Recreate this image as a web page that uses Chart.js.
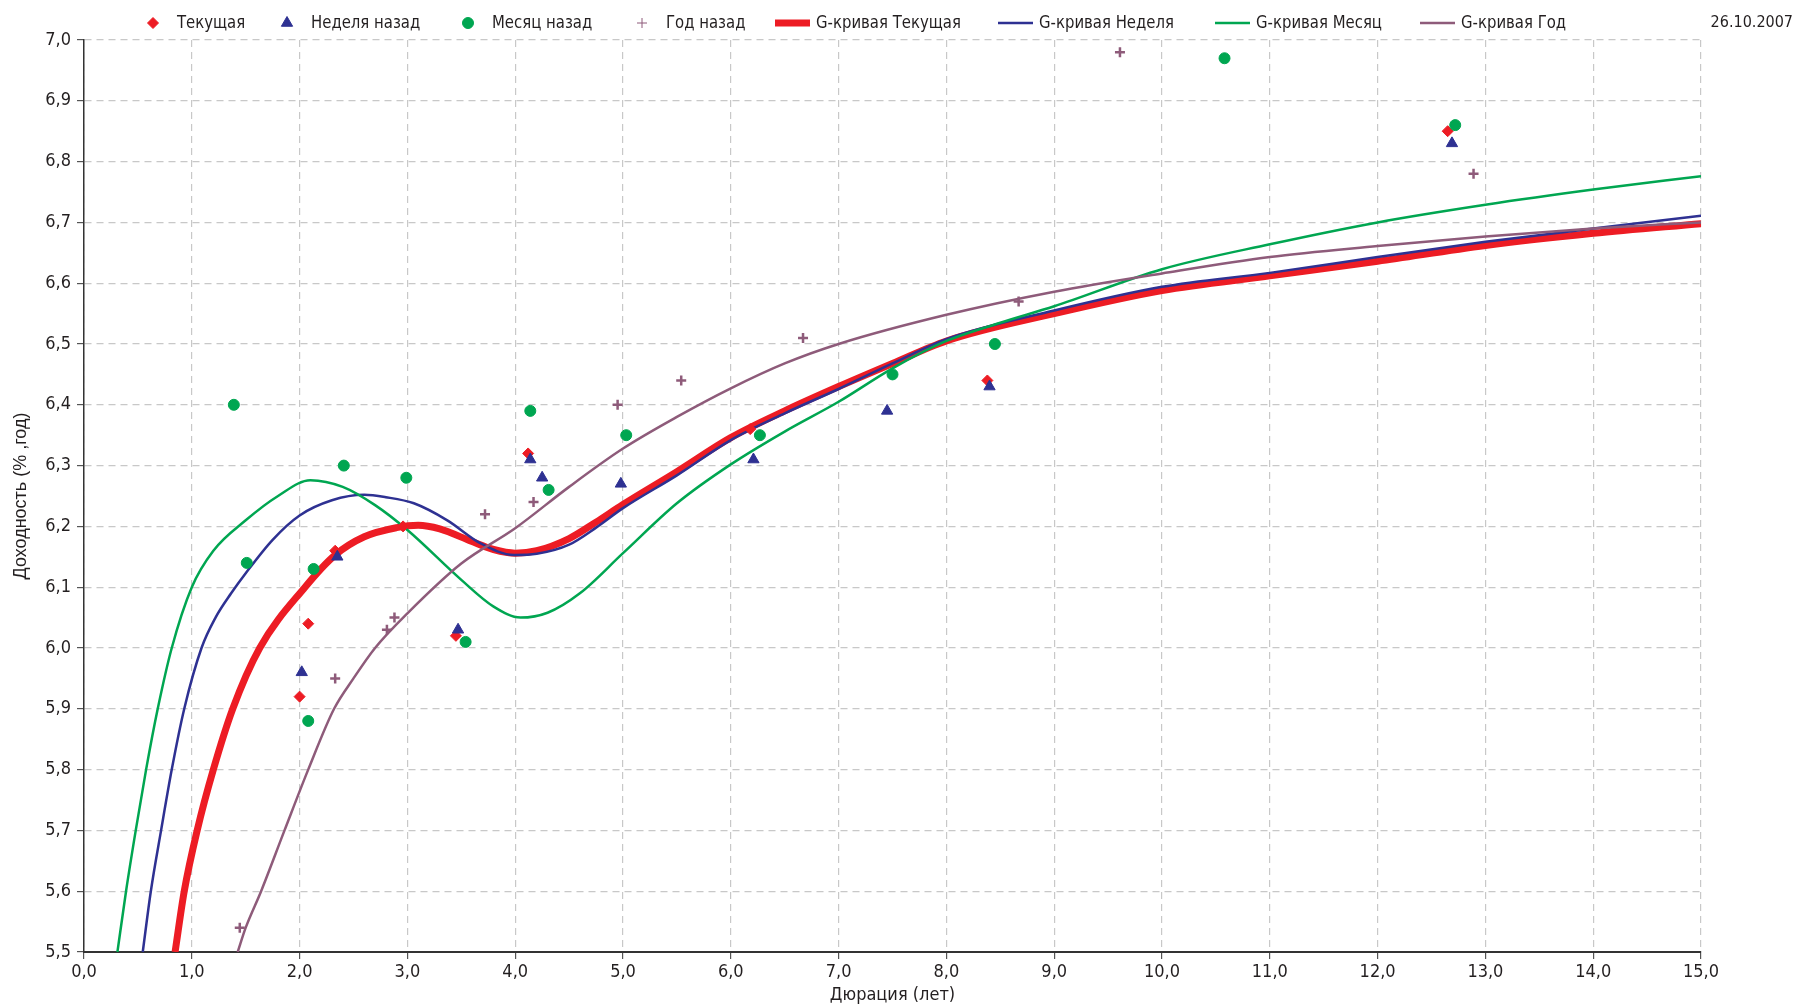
<!DOCTYPE html>
<html>
<head>
<meta charset="utf-8">
<script src="https://cdn.jsdelivr.net/npm/chart.js@4.4.1/dist/chart.umd.min.js"></script>
<style>
  html, body { margin: 0; padding: 0; background: #fff; }
  #wrap { width: 1796px; height: 1007px; }
</style>
</head>
<body>
<div id="wrap"><canvas id="curveChart"></canvas></div>
<script>
// Market quotes (duration, yield)
const currentPts = [[2.00,5.92],[2.08,6.04],[2.33,6.16],[2.96,6.20],[3.45,6.02],[4.12,6.32],[6.18,6.36],[8.38,6.44],[12.65,6.85]];
const weekPts = [[2.02,5.96],[2.35,6.15],[3.47,6.03],[4.14,6.31],[4.25,6.28],[4.98,6.27],[6.21,6.31],[7.45,6.39],[8.40,6.43],[12.69,6.83]];
const monthPts = [[1.39,6.40],[1.51,6.14],[2.08,5.88],[2.13,6.13],[2.41,6.30],[2.99,6.28],[3.54,6.01],[4.14,6.39],[4.31,6.26],[5.03,6.35],[6.27,6.35],[7.50,6.45],[8.45,6.50],[10.58,6.97],[12.72,6.86]];
const yearPts = [[1.445,5.54],[2.33,5.95],[2.81,6.03],[2.88,6.05],[3.72,6.22],[4.17,6.24],[4.95,6.40],[5.54,6.44],[6.67,6.51],[8.67,6.57],[9.61,6.98],[12.89,6.78]];

// G-curves
const gCurrent = [[0.845,5.50],[0.93,5.60],[1.05,5.70],[1.20,5.80],[1.38,5.90],[1.63,6.00],[2.05,6.10],[2.33,6.153],[2.6,6.183],[2.9,6.198],[3.1,6.202],[3.3,6.196],[3.6,6.175],[3.8,6.162],[4.0,6.156],[4.2,6.16],[4.5,6.18],[4.75,6.207],[5.0,6.236],[5.5,6.29],[6.0,6.346],[6.5,6.39],[7.0,6.43],[7.5,6.468],[8.0,6.505],[9.0,6.55],[10.0,6.588],[11.0,6.612],[12.0,6.636],[13.0,6.662],[14.0,6.682],[15.0,6.698]];
const gWeek = [[0.545,5.50],[0.62,5.60],[0.715,5.70],[0.814,5.80],[0.93,5.90],[1.09,6.00],[1.22,6.05],[1.365,6.09],[1.5,6.123],[1.75,6.178],[2.0,6.218],[2.3,6.243],[2.6,6.252],[2.8,6.248],[3.06,6.238],[3.37,6.21],[3.68,6.172],[3.99,6.153],[4.2,6.155],[4.5,6.17],[4.75,6.198],[5.0,6.23],[5.5,6.284],[6.0,6.342],[6.5,6.386],[7.0,6.426],[7.5,6.468],[8.0,6.508],[9.0,6.555],[10.0,6.594],[11.0,6.617],[12.0,6.643],[13.0,6.668],[14.0,6.69],[15.0,6.711]];
const gMonth = [[0.31,5.50],[0.39,5.60],[0.48,5.70],[0.576,5.80],[0.684,5.90],[0.814,6.00],[1.0,6.10],[1.2,6.16],[1.5,6.21],[1.8,6.25],[2.1,6.276],[2.4,6.265],[2.7,6.235],[3.0,6.194],[3.5,6.112],[3.8,6.068],[4.05,6.05],[4.3,6.058],[4.6,6.09],[5.0,6.156],[5.5,6.238],[6.0,6.302],[6.5,6.356],[7.0,6.405],[7.5,6.46],[8.0,6.505],[8.5,6.535],[9.0,6.562],[10.0,6.623],[11.0,6.664],[12.0,6.70],[13.0,6.729],[14.0,6.754],[15.0,6.776]];
const gYear = [[1.426,5.50],[1.5,5.54],[1.643,5.60],[1.86,5.70],[2.08,5.80],[2.32,5.90],[2.5,5.95],[2.7,6.0],[3.0,6.057],[3.5,6.139],[4.0,6.197],[4.5,6.265],[5.0,6.328],[5.5,6.38],[6.0,6.427],[6.5,6.468],[7.0,6.50],[8.0,6.548],[9.0,6.586],[10.0,6.616],[11.0,6.643],[12.0,6.661],[13.0,6.677],[14.0,6.69],[15.0,6.70]];

const xTicks = [0,1,2,3,4,5,6,7,8,9,10,11,12,13,14,15];
const yMin = 5.5, yMax = 7.0;
const dateLabel = '26.10.2007';

const FONT = "'Liberation Sans Narrow', 'DejaVu Sans Condensed', 'Roboto Condensed', sans-serif";
const RED = '#ed1c24', BLUE = '#2e3192', GREEN = '#00a651', PURPLE = '#8e5b7a';

// where each legend entry starts (marker centre / line start)
const legendAnchors = [153, 287, 468, 642, 775, 998, 1215, 1420];

function toXY(arr) { return arr.map(p => ({x: p[0], y: p[1]})); }
function fmt(v) { return v.toFixed(1).replace('.', ','); }

function marks(label, pts, color, style, r, order) {
    return {
        label: label, data: toXY(pts), showLine: false,
        pointStyle: style, pointRadius: r, pointHoverRadius: r,
        pointBackgroundColor: color, pointBorderColor: color,
        pointBorderWidth: style === 'cross' ? 2.5 : 1,
        backgroundColor: color, borderColor: color, order: order
    };
}
function curve(label, pts, color, width, order) {
    return {
        label: label, data: toXY(pts), showLine: true,
        borderColor: color, backgroundColor: color, borderWidth: width,
        pointRadius: 0, pointHoverRadius: 0, cubicInterpolationMode: 'monotone',
        fill: false, clip: 0, order: order
    };
}

// custom top legend laid out like the original (narrow text)
const topLegend = {
    id: 'topLegend',
    afterDraw(chart) {
        const ctx = chart.ctx;
        const y = 23;
        const squeeze = 0.92;
        ctx.save();
        ctx.font = '18px ' + FONT;
        ctx.textBaseline = 'middle';
        chart.data.datasets.forEach((ds, i) => {
            let x = legendAnchors[i];
            ctx.fillStyle = ds.borderColor;
            ctx.strokeStyle = ds.borderColor;
            if (ds.showLine) {
                ctx.lineWidth = ds.borderWidth;
                ctx.beginPath();
                ctx.moveTo(x, y);
                ctx.lineTo(x + 35, y);
                ctx.stroke();
                x += 41;
            } else {
                Chart.helpers.drawPoint(ctx, {
                    pointStyle: ds.pointStyle, radius: ds.pointRadius,
                    borderWidth: ds.pointBorderWidth, rotation: 0
                }, x, y);
                x += 24;
            }
            ctx.fillStyle = '#231f20';
            ctx.save();
            ctx.translate(x, y);
            ctx.scale(squeeze, 1);
            ctx.fillText(ds.label, 0, 0);
            ctx.restore();
        });
        ctx.font = '16px ' + FONT;
        ctx.textAlign = 'right';
        ctx.fillStyle = '#231f20';
        ctx.fillText(dateLabel, 1793, y);
        ctx.restore();
    }
};

const ctx = document.getElementById('curveChart').getContext('2d');
new Chart(ctx, {
    type: 'scatter',
    data: {
        datasets: [
            marks('Текущая', currentPts, RED, 'rectRot', 5.5, 4),
            marks('Неделя назад', weekPts, BLUE, 'triangle', 6.5, 3),
            marks('Месяц назад', monthPts, GREEN, 'circle', 5.5, 2),
            marks('Год назад', yearPts, PURPLE, 'cross', 5, 1),
            curve('G-кривая Текущая', gCurrent, RED, 7, 12),
            curve('G-кривая Неделя', gWeek, BLUE, 2.5, 11),
            curve('G-кривая Месяц', gMonth, GREEN, 2.5, 10),
            curve('G-кривая Год', gYear, PURPLE, 2.5, 9)
        ]
    },
    options: {
        responsive: true,
        maintainAspectRatio: false,
        animation: false,
        layout: { padding: { top: 40, right: 95, bottom: 0, left: 0 } },
        plugins: {
            legend: { display: false },
            tooltip: { enabled: false }
        },
        scales: {
            x: {
                type: 'linear', min: 0, max: 15,
                afterBuildTicks: s => { s.ticks = xTicks.map(v => ({value: v})); },
                afterFit: s => { s.height = 55; },
                ticks: { callback: v => fmt(v), color: '#231f20', font: { family: FONT, size: 18 }, padding: 3, maxRotation: 0 },
                grid: { color: '#c8c8c8', lineWidth: 1.2, tickLength: 7, tickColor: '#555', tickBorderDash: [] },
                border: { color: '#333', width: 2, dash: [7, 5] },
                title: { display: true, text: 'Дюрация (лет)', color: '#231f20', font: { family: FONT, size: 18 }, padding: { top: 0, bottom: 1 } }
            },
            y: {
                type: 'linear', min: yMin, max: yMax,
                ticks: { stepSize: 0.1, callback: v => fmt(v), color: '#231f20', font: { family: FONT, size: 18 }, padding: 6 },
                afterFit: s => { s.width = 84; },
                grid: { color: '#c8c8c8', lineWidth: 1.2, tickLength: 7, tickColor: '#555', tickBorderDash: [] },
                border: { color: '#333', width: 1.5, dash: [7, 5] },
                title: { display: true, text: 'Доходность (% ,год)', color: '#231f20', font: { family: "'Liberation Sans', Arial, sans-serif", size: 18 }, padding: { top: 10, bottom: 0 } }
            }
        }
    },
    plugins: [topLegend]
});
</script>
</body>
</html>
